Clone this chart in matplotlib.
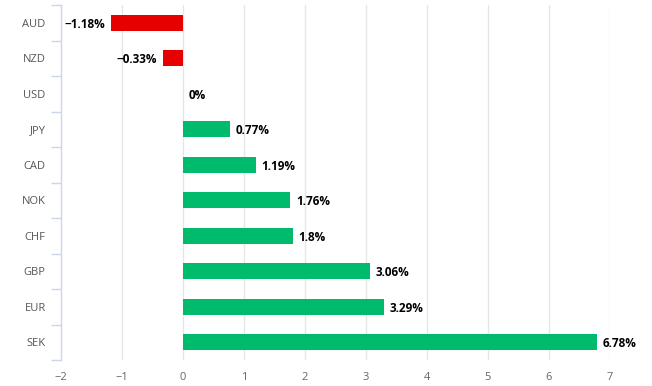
import matplotlib
matplotlib.use('Agg')
import matplotlib.pyplot as plt

plt.rcParams['font.family'] = ['Open Sans', 'DejaVu Sans']

currencies = ['AUD', 'NZD', 'USD', 'JPY', 'CAD', 'NOK', 'CHF', 'GBP', 'EUR', 'SEK']
changes = [-1.18, -0.33, 0, 0.77, 1.19, 1.76, 1.8, 3.06, 3.29, 6.78]
value_labels = ['\u22121.18%', '\u22120.33%', '0%', '0.77%', '1.19%', '1.76%', '1.8%', '3.06%', '3.29%', '6.78%']
x_ticks = [-2, -1, 0, 1, 2, 3, 4, 5, 6, 7]
x_ticklabels = ['\u22122', '\u22121', '0', '1', '2', '3', '4', '5', '6', '7']

fig = plt.figure(figsize=(6.52, 3.86), dpi=100)
ax = fig.add_axes([61 / 652, 1 - 360 / 386, 549 / 652, 355 / 386])

colors = ['#e60000' if v < 0 else '#00bb6b' for v in changes]
ypos = list(range(len(currencies)))
ax.barh(ypos, changes, height=0.46, color=colors, zorder=3)

for y, v, lab in zip(ypos, changes, value_labels):
    if v < 0:
        ax.annotate(lab, (v, y), xytext=(-4, -1.2), textcoords='offset points',
                    ha='right', va='center', fontsize=8.5, fontweight='bold', color='#000000')
    else:
        ax.annotate(lab, (v, y), xytext=(4, -1.2), textcoords='offset points',
                    ha='left', va='center', fontsize=8.5, fontweight='bold', color='#000000')

ax.set_xlim(-2, 7)
ax.set_ylim(len(currencies) - 0.5, -0.5)
ax.set_xticks(x_ticks)
ax.set_xticklabels(x_ticklabels)
ax.set_yticks(ypos)
ax.set_yticklabels(currencies)

# category boundary ticks on the y axis
ax.set_yticks([i - 0.5 for i in range(len(currencies) + 1)], minor=True)
ax.tick_params(axis='y', which='major', length=0, pad=11, labelsize=8, labelcolor='#555555')
ax.tick_params(axis='y', which='minor', length=7, width=1, color='#ccd6eb')
ax.tick_params(axis='x', which='major', length=0, pad=9, labelsize=8, labelcolor='#666666')

for x in x_ticks[1:]:
    ax.axvline(x, color='#e6e6e6', lw=1, zorder=1)

for side in ['top', 'right', 'bottom']:
    ax.spines[side].set_visible(False)
ax.spines['left'].set_color('#ccd6eb')
ax.spines['left'].set_linewidth(1)

fig.savefig('out.png', dpi=100)
